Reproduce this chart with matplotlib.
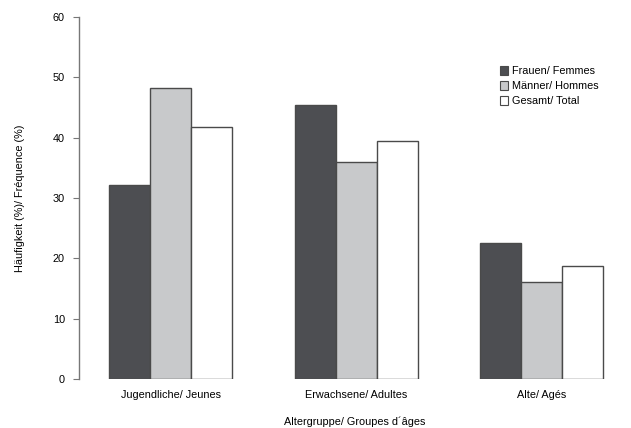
import numpy as np
import matplotlib
matplotlib.use("Agg")
import matplotlib.pyplot as plt
from matplotlib.patches import Patch

# Daten
gruppen = ["Jugendliche/ Jeunes", "Erwachsene/ Adultes", "Alte/ Agés"]
frauen = [32.2, 45.5, 22.6]
maenner = [48.3, 36.0, 16.0]
gesamt = [41.8, 39.5, 18.7]
serien = ["Frauen/ Femmes", "Männer/ Hommes", "Gesamt/ Total"]
farben = ["#4d4e52", "#c8c9cb", "#ffffff"]

plt.rcParams["font.family"] = ["Liberation Sans", "DejaVu Sans"]
fs = 7.8

fig = plt.figure(figsize=(6.31, 4.28), dpi=100)
ax = fig.add_axes([0.125, 0.1145, 0.875, 0.8455])

x = np.arange(len(gruppen))
breite = 0.221
kante = "#4a4a4a"
for i, (werte, farbe) in enumerate(zip([frauen, maenner, gesamt], farben)):
    ax.bar(x + (i - 1) * breite, werte, breite, color=farbe,
           edgecolor=kante, linewidth=1.0)

ax.set_xlim(-0.496, 2.48)
ax.set_ylim(0, 60)
ax.set_yticks(range(0, 61, 10))
ax.set_xticks(x)
ax.set_xticklabels(gruppen, fontsize=fs)
ax.tick_params(axis="x", length=0, pad=8)
ax.tick_params(axis="y", labelsize=fs, length=4, width=0.8,
               color="#777777", pad=6)

for s in ["top", "right", "bottom"]:
    ax.spines[s].set_visible(False)
ax.spines["left"].set_color("#777777")
ax.spines["left"].set_linewidth(1.0)

ax.set_ylabel("Häufigkeit (%)/ Fréquence (%)", fontsize=fs, labelpad=20)
ax.set_xlabel("Altergruppe/ Groupes d´âges", fontsize=fs, labelpad=12)

handles = [Patch(facecolor=f, edgecolor=kante, linewidth=0.8) for f in farben]
fig.legend(handles, serien, loc="upper left", bbox_to_anchor=(0.785, 0.855),
           frameon=False, fontsize=fs, handlelength=0.8, handleheight=0.8,
           handletextpad=0.3, labelspacing=0.45, borderaxespad=0)

fig.savefig("out.png", dpi=100)
